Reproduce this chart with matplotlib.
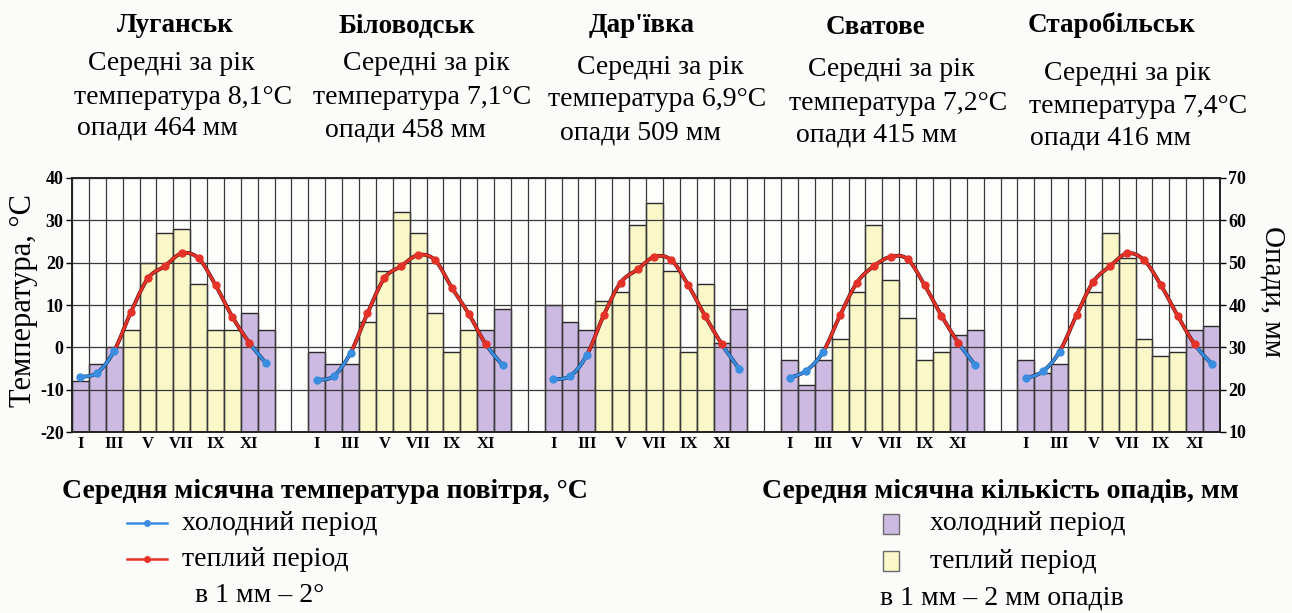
import numpy as np
import matplotlib
matplotlib.use("Agg")
import matplotlib.pyplot as plt
from matplotlib.lines import Line2D
from matplotlib.patches import Rectangle

plt.rcParams['font.family'] = ['Liberation Serif', 'DejaVu Serif']

# ---------------- data ----------------
cities = ["Луганськ", "Біловодськ", "Дар'ївка", "Сватове", "Старобільськ"]
annual_temp = ["8,1", "7,1", "6,9", "7,2", "7,4"]
annual_precip = [464, 458, 509, 415, 416]
month_labels = ["I", "III", "V", "VII", "IX", "XI"]

temp_luhansk = [-7.0, -6.0, -0.8, 8.4, 16.3, 19.2, 22.2, 21.0, 14.7, 7.2, 1.1, -3.8]
temp_bilovodsk = [-7.7, -6.8, -1.3, 8.0, 16.3, 19.2, 21.8, 20.6, 14.1, 7.9, 0.8, -4.2]
temp_darivka = [-7.5, -6.8, -1.8, 7.6, 15.3, 18.4, 21.4, 20.6, 14.7, 7.4, 0.7, -5.0]
temp_svatove = [-7.2, -5.5, -1.0, 7.6, 15.3, 19.2, 21.4, 20.8, 14.7, 7.5, 1.1, -4.2]
temp_starobilsk = [-7.3, -5.7, -1.0, 7.6, 15.5, 19.2, 22.2, 20.6, 14.7, 7.4, 0.7, -3.9]

prec_luhansk = [22, 26, 30, 34, 50, 57, 58, 45, 34, 34, 38, 34]
prec_bilovodsk = [29, 26, 26, 36, 48, 62, 57, 38, 29, 34, 34, 39]
prec_darivka = [40, 36, 34, 41, 43, 59, 64, 48, 29, 45, 31, 39]
prec_svatove = [27, 21, 27, 32, 43, 59, 46, 37, 27, 29, 33, 34]
prec_starobilsk = [27, 24, 26, 30, 43, 57, 51, 32, 28, 29, 34, 35]

temps = [temp_luhansk, temp_bilovodsk, temp_darivka, temp_svatove, temp_starobilsk]
precs = [prec_luhansk, prec_bilovodsk, prec_darivka, prec_svatove, prec_starobilsk]
cold_months = [0, 1, 2, 10, 11]

# ---------------- style ----------------
W, H = 1292, 613
BG = '#fbfbf9'
PURPLE = '#cdbae2'
YELLOW = '#faf8c9'
BLUE = '#3b8de0'
RED = '#e53228'
GRID = '#3a3a3a'

fig = plt.figure(figsize=(W / 100, H / 100), dpi=100, facecolor=BG)


def fx(px):
    return px / W


def fy(py):
    return 1 - py / H


ax = fig.add_axes([fx(72), fy(432), fx(1220) - fx(72), fy(178) - fy(432)])
ax.set_facecolor('#fdfdfb')
ax2 = ax.twinx()

ax.set_xlim(0, 68)
ax.set_ylim(10, 70)
ax2.set_ylim(-20, 40)

starts = [0, 14, 28, 42, 56]


def catmull(xs, ys, n=24):
    pts = np.column_stack([xs, ys]).astype(float)
    segs = []
    for i in range(len(pts) - 1):
        p0 = pts[max(i - 1, 0)]
        p1 = pts[i]
        p2 = pts[i + 1]
        p3 = pts[min(i + 2, len(pts) - 1)]
        t = np.linspace(0, 1, n)[:, None]
        c = 0.5 * ((2 * p1) + (-p0 + p2) * t + (2 * p0 - 5 * p1 + 4 * p2 - p3) * t ** 2
                   + (-p0 + 3 * p1 - 3 * p2 + p3) * t ** 3)
        segs.append(c)
    return segs


for s, t, p in zip(starts, temps, precs):
    xs = np.arange(12) + s + 0.5
    colors = [PURPLE if m in cold_months else YELLOW for m in range(12)]
    ax.bar(xs, np.array(p) - 10, bottom=10, width=1.0, color=colors,
           edgecolor='#2a2a2a', linewidth=1.0, zorder=1)
    segs = catmull(xs, t)
    for i, seg in enumerate(segs):
        col = BLUE if (i < 2 or i >= 10) else RED
        ax2.plot(seg[:, 0], seg[:, 1], color='#5a1010' if col == RED else '#123a6a',
                 lw=2.8, solid_capstyle='round', zorder=3)
        ax2.plot(seg[:, 0], seg[:, 1], color=col, lw=2.0, solid_capstyle='round', zorder=4)
    for m in range(12):
        col = BLUE if m in (0, 1, 2, 11) else RED
        ax2.plot(xs[m], t[m], 'o', color=col, ms=5, mec=col, zorder=5)

# grid
ax.set_xticks(np.arange(69), minor=True)
ax.set_yticks(np.arange(10, 71, 10))
ax.set_axisbelow(False)
ax.grid(which='minor', axis='x', color=GRID, lw=0.9, zorder=2)
ax.grid(which='major', axis='y', color=GRID, lw=0.9, zorder=2)
ax.grid(which='major', axis='x', visible=False)

tick_pos = [s + i + 0.5 for s in starts for i in (0, 2, 4, 6, 8, 10)]
ax.set_xticks(tick_pos)
ax.set_xticklabels(month_labels * 5, fontsize=12, fontweight='bold')
ax.tick_params(axis='x', which='both', length=0, pad=3)

ax.yaxis.tick_right()
ax2.yaxis.tick_left()
ax.set_yticks(np.arange(10, 71, 10))
ax.set_yticklabels([str(v) for v in range(10, 71, 10)], fontsize=13, fontweight='bold')
ax2.set_yticks(np.arange(-20, 41, 10))
ax2.set_yticklabels([str(v) for v in range(-20, 41, 10)], fontsize=13, fontweight='bold')
ax.tick_params(axis='y', length=4, width=1, pad=2, direction='out')
ax2.tick_params(axis='y', length=4, width=1, pad=2, direction='out')

for a in (ax, ax2):
    for sp in a.spines.values():
        sp.set_color('#222222')
        sp.set_linewidth(1.2)

# axis titles
fig.text(fx(24), fy(300), "Температура, °С", rotation=90, fontsize=22,
         ha='center', va='center')
fig.text(fx(1272), fy(292), "Опади, мм", rotation=270, fontsize=21,
         ha='center', va='center')

# city headers
title_pos = [(175, 26), (407, 26), (642, 26), (876, 27), (1112, 25)]
line_pos = [
    [(88, 63), (74, 97), (77, 128)],
    [(343, 63), (313, 97), (325, 130)],
    [(577, 67), (548, 100), (560, 133)],
    [(808, 70), (789, 103), (796, 135)],
    [(1044, 73), (1029, 106), (1030, 138)],
]
for c, tt, pp, (tx, ty), lp in zip(cities, annual_temp, annual_precip, title_pos, line_pos):
    fig.text(fx(tx), fy(ty), c, fontsize=19.5, fontweight='bold', ha='center', va='center')
    lines = ["Середні за рік", f"температура {tt}°С", f"опади {pp} мм"]
    for txt, (lx, ly) in zip(lines, lp):
        fig.text(fx(lx), fy(ly), txt, fontsize=20, ha='left', va='center')

# legends
fig.text(fx(62), fy(491), "Середня місячна температура повітря, °С", fontsize=20,
         fontweight='bold', ha='left', va='center')
for (yy, col, lab) in [(523, BLUE, "холодний період"), (559, RED, "теплий період")]:
    fig.add_artist(Line2D([fx(127), fx(167)], [fy(yy), fy(yy)], color=col, lw=1.8))
    fig.add_artist(Line2D([fx(147)], [fy(yy)], color=col, marker='o', ms=4, lw=0))
    fig.text(fx(182), fy(yy), lab, fontsize=20, ha='left', va='center')
fig.text(fx(195), fy(596), "в 1 мм – 2°", fontsize=20, ha='left', va='center')

fig.text(fx(762), fy(491), "Середня місячна кількість опадів, мм", fontsize=20,
         fontweight='bold', ha='left', va='center')
for (yy, col, lab) in [(524, PURPLE, "холодний період"), (561, YELLOW, "теплий період")]:
    fig.add_artist(Rectangle((fx(883), fy(yy + 10)), fx(16), 20 / H, facecolor=col,
                             edgecolor='#6a6a6a', lw=1.0, transform=fig.transFigure))
    fig.text(fx(930), fy(yy), lab, fontsize=20, ha='left', va='center')
fig.text(fx(880), fy(598), "в 1 мм – 2 мм опадів", fontsize=20, ha='left', va='center')

fig.savefig("out.png", dpi=100, facecolor=BG)
